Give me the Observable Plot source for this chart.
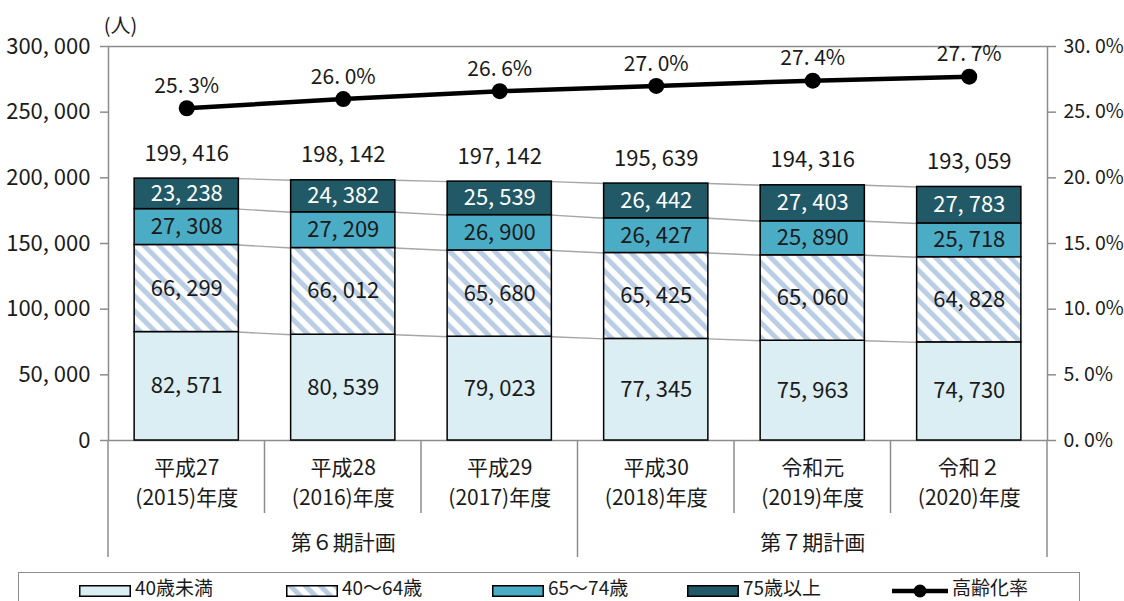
<!DOCTYPE html>
<html>
<head>
<meta charset="utf-8">
<script src="https://cdn.jsdelivr.net/npm/d3@7"></script>
<script src="https://cdn.jsdelivr.net/npm/@observablehq/plot@0.6"></script>
<style>
  html, body { margin: 0; padding: 0; background: #fff; width: 1124px; height: 601px; overflow: hidden; }
  #wrap { position: relative; width: 1124px; height: 601px;
          font-family: "Liberation Sans Narrow", "Arial Narrow", "Noto Sans CJK JP", sans-serif; color: #1a1a1a; }
  #chart { position: absolute; left: 0; top: 0; }
  #legend { position: absolute; left: 18px; top: 572px; width: 1062px; height: 44px;
            border: 1.5px solid #8c8c8c; box-sizing: border-box; }
  .li { position: absolute; top: 0; height: 27px; display: flex; align-items: center; font-size: 19px; line-height: 1; white-space: nowrap; }
  .li svg { margin-right: 4px; display: block; position: relative; top: 4px; }
</style>
</head>
<body>
<svg width="0" height="0" style="position:absolute">
  <defs>
    <pattern id="stripes" patternUnits="userSpaceOnUse" width="10.6" height="10.6" patternTransform="rotate(-45)">
      <rect width="10.6" height="10.6" fill="#ffffff"></rect>
      <rect width="5" height="10.6" fill="#b9cde5"></rect>
    </pattern>
  </defs>
</svg>
<div id="wrap">
  <div id="chart"></div>
  <div id="legend"></div>
</div>
<script>
// ---------------- data ----------------
const categoriesEra  = ["平成27", "平成28", "平成29", "平成30", "令和元", "令和２"];
const categoriesYear = ["(2015)年度", "(2016)年度", "(2017)年度", "(2018)年度", "(2019)年度", "(2020)年度"];
const planNames = ["第６期計画", "第７期計画"];
const planFirst = [0, 3];
const planLast  = [2, 5];

const seriesNames = ["40歳未満", "40～64歳", "65～74歳", "75歳以上"];
const under40   = [82571, 80539, 79023, 77345, 75963, 74730];
const age40to64 = [66299, 66012, 65680, 65425, 65060, 64828];
const age65to74 = [27308, 27209, 26900, 26427, 25890, 25718];
const age75plus = [23238, 24382, 25539, 26442, 27403, 27783];
const totals    = [199416, 198142, 197142, 195639, 194316, 193059];

const lineName  = "高齢化率";
const agingRate = [25.3, 26.0, 26.6, 27.0, 27.4, 27.7];

const unitLabel = "(人)";
const leftTicks = [0, 50000, 100000, 150000, 200000, 250000, 300000];
const leftTickLabels  = ["0", "50, 000", "100, 000", "150, 000", "200, 000", "250, 000", "300, 000"];
const rightTickLabels = ["0. 0%", "5. 0%", "10. 0%", "15. 0%", "20. 0%", "25. 0%", "30. 0%"];

// ---------------- styles ----------------
const FONT = '"Liberation Sans Narrow", "Arial Narrow", "Noto Sans CJK JP", sans-serif';
const TEXT = "#1a1a1a";
const GRID = "#8c8c8c";
const CONNECT = "#a6a6a6";
const seriesFills = ["#daeef3", "url(#stripes)", "#4bacc6", "#215967"];
const H = 0.333;                 // half bar width in category units
const RATE_TO_Y = 300000 / 30;   // secondary axis: 30% <-> 300,000

const seriesValues = [under40, age40to64, age65to74, age75plus];
const fmtNum = v => d3.format(",")(v).replace(/,/g, ", ");
const fmtPct = v => v.toFixed(1).replace(".", ". ") + "%";

// stacked rows
const rows = [];
categoriesEra.forEach((c, i) => {
  let acc = 0;
  seriesValues.forEach((vals, k) => {
    rows.push({i, k, value: vals[i], y1: acc, y2: acc + vals[i]});
    acc += vals[i];
  });
});
const segTop = (k, i) => rows.find(r => r.k === k && r.i === i).y2;
const links = [];
seriesValues.forEach((vals, k) => {
  for (let i = 0; i < categoriesEra.length - 1; i++) links.push({k, i, ya: segTop(k, i), yb: segTop(k, i + 1)});
});
const cats = categoriesEra.map((c, i) => ({i, era: c, year: categoriesYear[i], total: totals[i], rate: agingRate[i]}));
const plans = planNames.map((p, j) => ({name: p, x: (planFirst[j] + planLast[j]) / 2}));

// table grid lines (rendered with the plot's scales)
function tableLines(index, scales) {
  const {x, y} = scales;
  const y0 = y(0);
  const g = d3.create("svg:g").attr("stroke", GRID).attr("stroke-width", 1.5);
  const bounds = new Set([0, ...planLast.map(v => v + 1)]);
  for (let b = 0; b <= categoriesEra.length; b++) {
    const xx = x(b - 0.5);
    g.append("line").attr("x1", xx).attr("x2", xx).attr("y1", y0).attr("y2", y0 + (bounds.has(b) ? 117 : 73));
  }
  return g.node();
}

const chart = Plot.plot({
  width: 1124,
  height: 560,
  marginLeft: 108,
  marginRight: 77,
  marginTop: 46,
  marginBottom: 120,
  style: {fontFamily: FONT, color: TEXT, background: "transparent", overflow: "visible"},
  x: {type: "linear", domain: [-0.5, categoriesEra.length - 0.5], axis: null},
  y: {domain: [0, 300000], axis: null},
  marks: [
    Plot.frame({stroke: GRID, strokeWidth: 1.5}),
    Plot.link(links, {x1: d => d.i + H, x2: d => d.i + 1 - H, y1: "ya", y2: "yb", stroke: CONNECT, strokeWidth: 1.4}),
    ...seriesFills.map((f, k) => Plot.rect(rows.filter(r => r.k === k), {
      x1: d => d.i - H, x2: d => d.i + H, y1: "y1", y2: "y2", fill: f, stroke: "#000", strokeWidth: 1.5
    })),
    Plot.text(rows.filter(r => r.k < 3), {x: "i", y: d => (d.y1 + d.y2) / 2, text: d => fmtNum(d.value), fill: TEXT, fontSize: 22}),
    Plot.text(rows.filter(r => r.k === 3), {x: "i", y: d => (d.y1 + d.y2) / 2, text: d => fmtNum(d.value), fill: "#ffffff", fontSize: 22}),
    Plot.text(cats, {x: "i", y: "total", text: d => fmtNum(d.total), dy: -25, fill: TEXT, fontSize: 22}),
    Plot.line(cats, {x: "i", y: d => d.rate * RATE_TO_Y, stroke: "#000", strokeWidth: 4.5}),
    Plot.dot(cats, {x: "i", y: d => d.rate * RATE_TO_Y, r: 8, fill: "#000"}),
    Plot.text(cats, {x: "i", y: d => d.rate * RATE_TO_Y, text: d => fmtPct(d.rate), dy: -22, fill: TEXT, fontSize: 21}),
    Plot.axisY(leftTicks, {anchor: "left", tickSize: 8, tickPadding: 10, label: null, stroke: GRID, strokeWidth: 1.5,
      fill: TEXT, fontSize: 22, tickFormat: d => leftTickLabels[leftTicks.indexOf(d)]}),
    Plot.axisY(leftTicks, {anchor: "right", tickSize: 8, tickPadding: 8, label: null, stroke: GRID, strokeWidth: 1.5,
      fill: TEXT, fontSize: 19.5, tickFormat: d => rightTickLabels[leftTicks.indexOf(d)]}),
    Plot.text([unitLabel], {frameAnchor: "top-left", dx: 12, dy: -20, textAnchor: "middle", lineAnchor: "middle", fill: TEXT, fontSize: 20}),
    tableLines,
    Plot.text(cats, {x: "i", y: 0, text: "era", dy: 28, fill: TEXT, fontSize: 21}),
    Plot.text(cats, {x: "i", y: 0, text: "year", dy: 58, fill: TEXT, fontSize: 21}),
    Plot.text(plans, {x: "x", y: 0, text: "name", dy: 103, fill: TEXT, fontSize: 21})
  ]
});
document.getElementById("chart").appendChild(chart);

// ---------------- legend ----------------
const legend = document.getElementById("legend");
const legendLeft = [78, 285, 491, 686, 891];
const legendItems = [...seriesNames.map((n, k) => ({name: n, fill: seriesFills[k]})), {name: lineName, line: true}];
legendItems.forEach((it, j) => {
  const div = document.createElement("div");
  div.className = "li";
  div.style.left = (legendLeft[j] - 18) + "px";
  let sw;
  if (it.line) {
    sw = `<svg width="56" height="16"><line x1="0" x2="56" y1="8" y2="8" stroke="#000" stroke-width="4.5"/><circle cx="28" cy="8" r="6.5" fill="#000"/></svg>`;
  } else {
    sw = `<svg width="52" height="12"><rect x="0.75" y="0.75" width="50.5" height="10.5" fill="${it.fill}" stroke="#000" stroke-width="1.5"/></svg>`;
  }
  div.innerHTML = sw + `<span>${it.name}</span>`;
  legend.appendChild(div);
});
</script>
</body>
</html>
